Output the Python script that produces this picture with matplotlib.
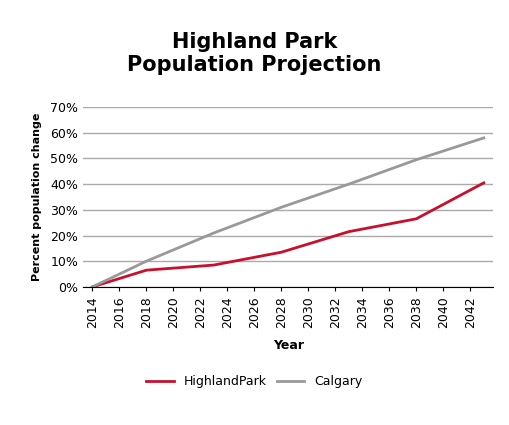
import matplotlib
matplotlib.use('Agg')
import matplotlib.pyplot as plt

years = [2014, 2018, 2023, 2028, 2033, 2038, 2043]
highland_park = [0, 6.5, 8.5, 13.5, 21.5, 26.5, 40.5]
calgary = [0, 10, 21, 31, 40, 49.5, 58]
xticks = list(range(2014, 2043, 2))

fig = plt.figure(figsize=(5.09, 4.25), dpi=100)
ax = fig.add_axes([0.163, 0.325, 0.806, 0.423])

ax.plot(years, highland_park, color='#c8102e', linewidth=2, label='HighlandPark')
ax.plot(years, calgary, color='#999999', linewidth=2, label='Calgary')

ax.set_xlim(2013.3, 2043.7)
ax.set_ylim(0, 70)
ax.set_yticks(range(0, 71, 10))
ax.set_yticklabels([f'{v}%' for v in range(0, 71, 10)], fontsize=9)
ax.set_xticks(xticks)
ax.set_xticklabels([str(x) for x in xticks], rotation=90, fontsize=9)
ax.grid(axis='y', color='#aaaaaa', linewidth=1)
ax.set_axisbelow(True)
for s in ['top', 'right', 'left']:
    ax.spines[s].set_visible(False)
ax.spines['bottom'].set_color('black')
ax.tick_params(axis='y', length=0)
ax.tick_params(axis='x', length=3)

ax.set_xlabel('Year', fontsize=9, fontweight='bold', labelpad=8)
ax.set_ylabel('Percent population change', fontsize=8, fontweight='bold', labelpad=6)
fig.suptitle('Highland Park\nPopulation Projection', fontsize=15, fontweight='bold', y=0.925)

fig.legend(loc='lower center', bbox_to_anchor=(0.5, 0.06), ncol=2, frameon=False,
           fontsize=9, handlelength=2.2, columnspacing=0.8)

fig.savefig('out.png', dpi=100)
